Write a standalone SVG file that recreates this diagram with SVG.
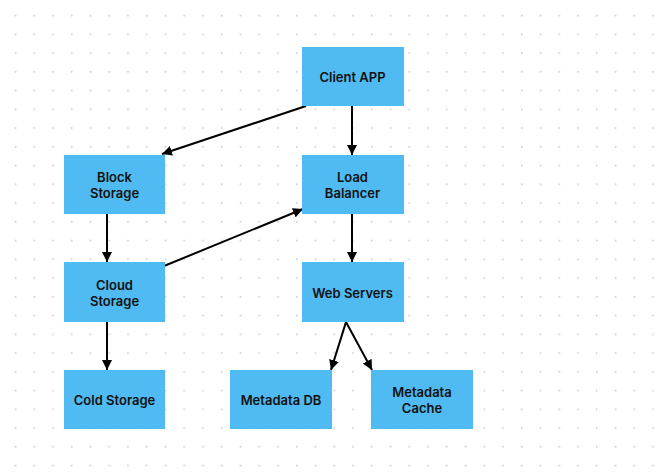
<svg xmlns="http://www.w3.org/2000/svg" width="665" height="474" viewBox="0 0 665 474">
  <defs>
    <pattern id="dots" patternUnits="userSpaceOnUse" x="0" y="0" width="18.75" height="18.75">
      <circle cx="15.5" cy="15.5" r="1" fill="#cfcfcf"/>
    </pattern>
    <marker id="arrow" viewBox="0 0 10 10" refX="10" refY="5" markerWidth="5" markerHeight="5" markerUnits="strokeWidth" orient="auto">
      <path d="M0,0 L10,5 L0,10 z" fill="#000"/>
    </marker>
  </defs>
  <style>
    .box { fill: #4fbbf2; }
    .label { font-family: Inter, "Noto Sans", "DejaVu Sans", sans-serif; font-size: 13px; font-weight: 600; fill: #111; text-anchor: middle; }
    .edge { stroke: #000; stroke-width: 2; fill: none; marker-end: url(#arrow); }
  </style>
  <rect width="665" height="474" fill="#fff"/>
  <rect width="665" height="474" fill="url(#dots)"/>

  <g id="connectors">
    <line class="edge" x1="306" y1="106" x2="162" y2="154"/>
    <line class="edge" x1="352" y1="106" x2="352" y2="155"/>
    <line class="edge" x1="352" y1="214" x2="352" y2="262"/>
    <line class="edge" x1="107" y1="214" x2="107" y2="262"/>
    <line class="edge" x1="107" y1="322" x2="107" y2="370"/>
    <line class="edge" x1="164" y1="266" x2="303" y2="209"/>
    <line class="edge" x1="346" y1="322" x2="331" y2="370"/>
    <line class="edge" x1="346" y1="322" x2="372" y2="370"/>
  </g>

  <g id="client-app">
    <rect class="box" x="302" y="47" width="102" height="59"/>
    <text class="label" x="352.5" y="82">Client APP</text>
  </g>
  <g id="load-balancer">
    <rect class="box" x="302" y="155" width="102" height="59"/>
    <text class="label" x="352.5" y="182">Load</text>
    <text class="label" x="352.5" y="198">Balancer</text>
  </g>
  <g id="web-servers">
    <rect class="box" x="302" y="262" width="102" height="60"/>
    <text class="label" x="352.5" y="298">Web Servers</text>
  </g>
  <g id="block-storage">
    <rect class="box" x="64" y="155" width="101" height="59"/>
    <text class="label" x="114.5" y="182">Block</text>
    <text class="label" x="114.5" y="198">Storage</text>
  </g>
  <g id="cloud-storage">
    <rect class="box" x="64" y="262" width="101" height="60"/>
    <text class="label" x="114.5" y="290">Cloud</text>
    <text class="label" x="114.5" y="306">Storage</text>
  </g>
  <g id="cold-storage">
    <rect class="box" x="64" y="370" width="101" height="59"/>
    <text class="label" x="114.5" y="405">Cold Storage</text>
  </g>
  <g id="metadata-db">
    <rect class="box" x="230" y="370" width="102" height="59"/>
    <text class="label" x="281" y="405">Metadata DB</text>
  </g>
  <g id="metadata-cache">
    <rect class="box" x="371" y="370" width="102" height="59"/>
    <text class="label" x="422" y="397">Metadata</text>
    <text class="label" x="422" y="413">Cache</text>
  </g>
</svg>
